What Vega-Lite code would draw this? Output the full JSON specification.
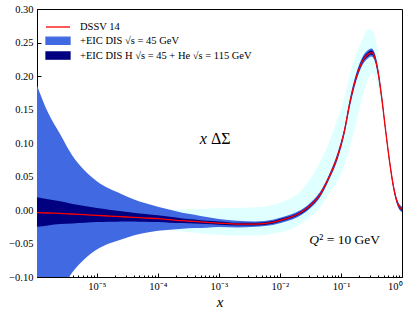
{
  "$schema": "https://vega.github.io/schema/vega-lite/v6.json",
  "width": 365,
  "height": 268,
  "autosize": "none",
  "padding": {"left": 37, "top": 9, "right": 13, "bottom": 34},
  "config": {
    "view": {"stroke": "#000", "strokeWidth": 1},
    "font": "Liberation Serif",
    "axis": {
      "grid": false,
      "domainColor": "#000",
      "tickColor": "#000",
      "labelColor": "#000",
      "titleColor": "#000",
      "labelFont": "Liberation Serif",
      "titleFont": "Liberation Serif",
      "labelFontSize": 10.5,
      "labelOverlap": false
    }
  },
  "datasets": {
    "curves": [
      {"x": 1.047e-6, "c": -0.004, "d_lo": -0.016, "d_hi": 0.008, "b_lo": -0.194, "b_hi": 0.186, "n_lo": -0.025, "n_hi": 0.019},
      {"x": 1.585e-6, "c": -0.0045, "d_lo": -0.0165, "d_hi": 0.0075, "b_lo": -0.1545, "b_hi": 0.1455, "n_lo": -0.023, "n_hi": 0.016},
      {"x": 2.512e-6, "c": -0.005, "d_lo": -0.017, "d_hi": 0.007, "b_lo": -0.123, "b_hi": 0.113, "n_lo": -0.021, "n_hi": 0.013},
      {"x": 3.981e-6, "c": -0.006, "d_lo": -0.018, "d_hi": 0.006, "b_lo": -0.093, "b_hi": 0.081, "n_lo": -0.020, "n_hi": 0.009},
      {"x": 6.31e-6, "c": -0.007, "d_lo": -0.019, "d_hi": 0.005, "b_lo": -0.073, "b_hi": 0.059, "n_lo": -0.019, "n_hi": 0.006},
      {"x": 1e-5, "c": -0.008, "d_lo": -0.020, "d_hi": 0.004, "b_lo": -0.059, "b_hi": 0.043, "n_lo": -0.018, "n_hi": 0.003},
      {"x": 1.585e-5, "c": -0.009, "d_lo": -0.021, "d_hi": 0.003, "b_lo": -0.050, "b_hi": 0.032, "n_lo": -0.0175, "n_hi": 0.0005},
      {"x": 2.512e-5, "c": -0.010, "d_lo": -0.022, "d_hi": 0.002, "b_lo": -0.044, "b_hi": 0.024, "n_lo": -0.017, "n_hi": -0.002},
      {"x": 3.981e-5, "c": -0.011, "d_lo": -0.023, "d_hi": 0.001, "b_lo": -0.038, "b_hi": 0.016, "n_lo": -0.017, "n_hi": -0.004},
      {"x": 6.31e-5, "c": -0.012, "d_lo": -0.025, "d_hi": 0.0, "b_lo": -0.034, "b_hi": 0.010, "n_lo": -0.0175, "n_hi": -0.006},
      {"x": 1e-4, "c": -0.013, "d_lo": -0.027, "d_hi": -0.001, "b_lo": -0.031, "b_hi": 0.005, "n_lo": -0.018, "n_hi": -0.008},
      {"x": 1.585e-4, "c": -0.0145, "d_lo": -0.030, "d_hi": 0.0, "b_lo": -0.0295, "b_hi": 0.0005, "n_lo": -0.019, "n_hi": -0.010},
      {"x": 2.512e-4, "c": -0.016, "d_lo": -0.032, "d_hi": 0.001, "b_lo": -0.028, "b_hi": -0.004, "n_lo": -0.0195, "n_hi": -0.0125},
      {"x": 3.981e-4, "c": -0.017, "d_lo": -0.034, "d_hi": 0.0015, "b_lo": -0.027, "b_hi": -0.007, "n_lo": -0.020, "n_hi": -0.014},
      {"x": 6.31e-4, "c": -0.0185, "d_lo": -0.036, "d_hi": 0.002, "b_lo": -0.0265, "b_hi": -0.0105, "n_lo": -0.021, "n_hi": -0.016},
      {"x": 1e-3, "c": -0.0195, "d_lo": -0.037, "d_hi": 0.0025, "b_lo": -0.0255, "b_hi": -0.0135, "n_lo": -0.022, "n_hi": -0.017},
      {"x": 1.995e-3, "c": -0.021, "d_lo": -0.038, "d_hi": 0.003, "b_lo": -0.026, "b_hi": -0.016, "n_lo": -0.023, "n_hi": -0.019},
      {"x": 3.981e-3, "c": -0.021, "d_lo": -0.038, "d_hi": 0.004, "b_lo": -0.025, "b_hi": -0.017, "n_lo": -0.023, "n_hi": -0.019},
      {"x": 7.943e-3, "c": -0.018, "d_lo": -0.035, "d_hi": 0.008, "b_lo": -0.022, "b_hi": -0.014, "n_lo": -0.020, "n_hi": -0.016},
      {"x": 0.01259, "c": -0.013, "d_lo": -0.031, "d_hi": 0.014, "b_lo": -0.017, "b_hi": -0.009, "n_lo": -0.015, "n_hi": -0.011},
      {"x": 0.01995, "c": -0.006, "d_lo": -0.023, "d_hi": 0.025, "b_lo": -0.010, "b_hi": -0.002, "n_lo": -0.008, "n_hi": -0.004},
      {"x": 0.03162, "c": 0.007, "d_lo": -0.010, "d_hi": 0.047, "b_lo": 0.003, "b_hi": 0.011, "n_lo": 0.005, "n_hi": 0.009},
      {"x": 0.04467, "c": 0.022, "d_lo": 0.003, "d_hi": 0.07, "b_lo": 0.018, "b_hi": 0.026, "n_lo": 0.020, "n_hi": 0.024},
      {"x": 0.0631, "c": 0.048, "d_lo": 0.024, "d_hi": 0.10, "b_lo": 0.044, "b_hi": 0.052, "n_lo": 0.046, "n_hi": 0.050},
      {"x": 0.08913, "c": 0.082, "d_lo": 0.045, "d_hi": 0.138, "b_lo": 0.077, "b_hi": 0.087, "n_lo": 0.0795, "n_hi": 0.0845},
      {"x": 0.1122, "c": 0.115, "d_lo": 0.065, "d_hi": 0.165, "b_lo": 0.110, "b_hi": 0.120, "n_lo": 0.1125, "n_hi": 0.1175},
      {"x": 0.1413, "c": 0.162, "d_lo": 0.095, "d_hi": 0.204, "b_lo": 0.156, "b_hi": 0.168, "n_lo": 0.159, "n_hi": 0.165},
      {"x": 0.1778, "c": 0.198, "d_lo": 0.13, "d_hi": 0.232, "b_lo": 0.192, "b_hi": 0.204, "n_lo": 0.195, "n_hi": 0.201},
      {"x": 0.2239, "c": 0.222, "d_lo": 0.168, "d_hi": 0.255, "b_lo": 0.216, "b_hi": 0.228, "n_lo": 0.219, "n_hi": 0.225},
      {"x": 0.2818, "c": 0.233, "d_lo": 0.197, "d_hi": 0.27, "b_lo": 0.227, "b_hi": 0.239, "n_lo": 0.230, "n_hi": 0.236},
      {"x": 0.3162, "c": 0.235, "d_lo": 0.204, "d_hi": 0.268, "b_lo": 0.229, "b_hi": 0.241, "n_lo": 0.232, "n_hi": 0.238},
      {"x": 0.3548, "c": 0.229, "d_lo": 0.2, "d_hi": 0.262, "b_lo": 0.223, "b_hi": 0.235, "n_lo": 0.226, "n_hi": 0.232},
      {"x": 0.3981, "c": 0.21, "d_lo": 0.185, "d_hi": 0.235, "b_lo": 0.204, "b_hi": 0.216, "n_lo": 0.207, "n_hi": 0.213},
      {"x": 0.4677, "c": 0.166, "d_lo": 0.152, "d_hi": 0.185, "b_lo": 0.161, "b_hi": 0.171, "n_lo": 0.1635, "n_hi": 0.1685},
      {"x": 0.537, "c": 0.12, "d_lo": 0.111, "d_hi": 0.13, "b_lo": 0.116, "b_hi": 0.124, "n_lo": 0.118, "n_hi": 0.122},
      {"x": 0.631, "c": 0.07, "d_lo": 0.064, "d_hi": 0.076, "b_lo": 0.066, "b_hi": 0.074, "n_lo": 0.068, "n_hi": 0.072},
      {"x": 0.7244, "c": 0.035, "d_lo": 0.030, "d_hi": 0.040, "b_lo": 0.031, "b_hi": 0.039, "n_lo": 0.033, "n_hi": 0.037},
      {"x": 0.8318, "c": 0.012, "d_lo": 0.007, "d_hi": 0.017, "b_lo": 0.008, "b_hi": 0.016, "n_lo": 0.010, "n_hi": 0.014},
      {"x": 0.9333, "c": 0.003, "d_lo": -0.002, "d_hi": 0.008, "b_lo": -0.001, "b_hi": 0.007, "n_lo": 0.001, "n_hi": 0.005},
      {"x": 1.0, "c": 0.001, "d_lo": -0.004, "d_hi": 0.006, "b_lo": -0.003, "b_hi": 0.005, "n_lo": -0.001, "n_hi": 0.003}
    ],
    "notes": [
      {"x": 0.001, "y": 0.098, "part": "x"},
      {"x": 0.001, "y": 0.098, "part": "ΔΣ"},
      {"x": 0.0302, "y": -0.0507, "part": "Q"},
      {"x": 0.0302, "y": -0.0507, "part": "² = 10 GeV"}
    ]
  },
  "data": {"name": "curves"},
  "encoding": {
    "x": {
      "field": "x",
      "type": "quantitative",
      "scale": {"type": "log", "domain": [1.047e-6, 1], "nice": false},
      "axis": {
        "values": [2e-6, 3e-6, 4e-6, 5e-6, 6e-6, 7e-6, 8e-6, 9e-6, 1e-5, 2e-5, 3e-5, 4e-5, 5e-5, 6e-5, 7e-5, 8e-5, 9e-5, 1e-4, 2e-4, 3e-4, 4e-4, 5e-4, 6e-4, 7e-4, 8e-4, 9e-4, 1e-3, 2e-3, 3e-3, 4e-3, 5e-3, 6e-3, 7e-3, 8e-3, 9e-3, 0.01, 0.02, 0.03, 0.04, 0.05, 0.06, 0.07, 0.08, 0.09, 0.1, 0.2, 0.3, 0.4, 0.5, 0.6, 0.7, 0.8, 0.9, 1],
        "labelExpr": "abs(log(datum.value)/LN10 - round(log(datum.value)/LN10)) < 0.001 ? '10' + ['⁰','⁻¹','⁻²','⁻³','⁻⁴','⁻⁵','⁻⁶'][-round(log(datum.value)/LN10)] : ''",
        "tickSize": {"condition": {"test": "abs(log(datum.value)/LN10 - round(log(datum.value)/LN10)) < 0.001", "value": -4}, "value": -2},
        "labelPadding": 8,
        "labelOverlap": false,
        "title": "x",
        "titleFontStyle": "italic",
        "titleFontWeight": "normal",
        "titleFontSize": 15,
        "titlePadding": 1
      }
    },
    "y": {
      "type": "quantitative",
      "scale": {"domain": [-0.1, 0.3], "nice": false, "zero": false},
      "axis": {
        "values": [-0.1, -0.05, 0, 0.05, 0.1, 0.15, 0.2, 0.25, 0.3],
        "labelExpr": "replace(format(datum.value, '.2f'), '-', '−')",
        "tickSize": -4,
        "labelPadding": 8,
        "labelOverlap": false,
        "labelBound": false,
        "title": null
      }
    }
  },
  "layer": [
    {
      "mark": {"type": "area", "color": "#e0ffff", "interpolate": "monotone", "clip": true},
      "encoding": {
        "y": {"field": "d_lo"},
        "y2": {"field": "d_hi"}
      }
    },
    {
      "mark": {"type": "area", "interpolate": "monotone", "clip": true},
      "encoding": {
        "y": {"field": "b_lo"},
        "y2": {"field": "b_hi"},
        "color": {
          "datum": "+EIC DIS √s = 45 GeV",
          "scale": {
            "domain": ["DSSV 14", "+EIC DIS √s = 45 GeV", "+EIC DIS H √s = 45 + He √s = 115 GeV"],
            "range": ["red", "royalblue", "navy"]
          },
          "legend": {
            "orient": "none",
            "legendX": 14,
            "legendY": 11,
            "title": null,
            "symbolSize": 144,
            "labelFont": "Liberation Serif",
            "labelFontSize": 10.5,
            "labelColor": "#000",
            "labelOffset": 15,
            "labelLimit": 400,
            "rowPadding": 0.8,
            "symbolStrokeWidth": 1.3,
            "encode": {
              "symbols": {
                "update": {
                  "shape": {"signal": "datum.index === 0 ? 'M-2,0H2' : 'M-2,-0.6H2V0.6H-2Z'"},
                  "fill": {"signal": "datum.index === 0 ? 'transparent' : (datum.index === 1 ? 'royalblue' : 'navy')"},
                  "stroke": {"signal": "datum.index === 0 ? 'red' : 'transparent'"},
                  "opacity": {"value": 1}
                }
              }
            }
          }
        }
      }
    },
    {
      "mark": {"type": "area", "interpolate": "monotone", "clip": true},
      "encoding": {
        "y": {"field": "n_lo"},
        "y2": {"field": "n_hi"},
        "color": {"datum": "+EIC DIS H √s = 45 + He √s = 115 GeV"}
      }
    },
    {
      "mark": {"type": "line", "interpolate": "monotone", "strokeWidth": 1.3, "clip": true},
      "encoding": {
        "y": {"field": "c"},
        "color": {"datum": "DSSV 14"}
      }
    },
    {
      "data": {"name": "notes"},
      "transform": [{"filter": "datum.part === 'x'"}],
      "mark": {"type": "text", "font": "Liberation Serif", "fontSize": 16, "fontStyle": "italic", "fontWeight": "normal", "color": "#000", "align": "right", "baseline": "alphabetic", "dx": -12},
      "encoding": {"y": {"field": "y"}, "text": {"field": "part"}}
    },
    {
      "data": {"name": "notes"},
      "transform": [{"filter": "datum.part === 'ΔΣ'"}],
      "mark": {"type": "text", "font": "Liberation Serif", "fontSize": 16, "fontWeight": "normal", "color": "#000", "align": "left", "baseline": "alphabetic", "dx": -8},
      "encoding": {"y": {"field": "y"}, "text": {"field": "part"}}
    },
    {
      "data": {"name": "notes"},
      "transform": [{"filter": "datum.part === 'Q'"}],
      "mark": {"type": "text", "font": "Liberation Serif", "fontSize": 13.5, "fontStyle": "italic", "fontWeight": "normal", "color": "#000", "align": "left", "baseline": "alphabetic"},
      "encoding": {"y": {"field": "y"}, "text": {"field": "part"}}
    },
    {
      "data": {"name": "notes"},
      "transform": [{"filter": "datum.part === '² = 10 GeV'"}],
      "mark": {"type": "text", "font": "Liberation Serif", "fontSize": 13.5, "fontWeight": "normal", "color": "#000", "align": "left", "baseline": "alphabetic", "dx": 10},
      "encoding": {"y": {"field": "y"}, "text": {"field": "part"}}
    }
  ]
}
